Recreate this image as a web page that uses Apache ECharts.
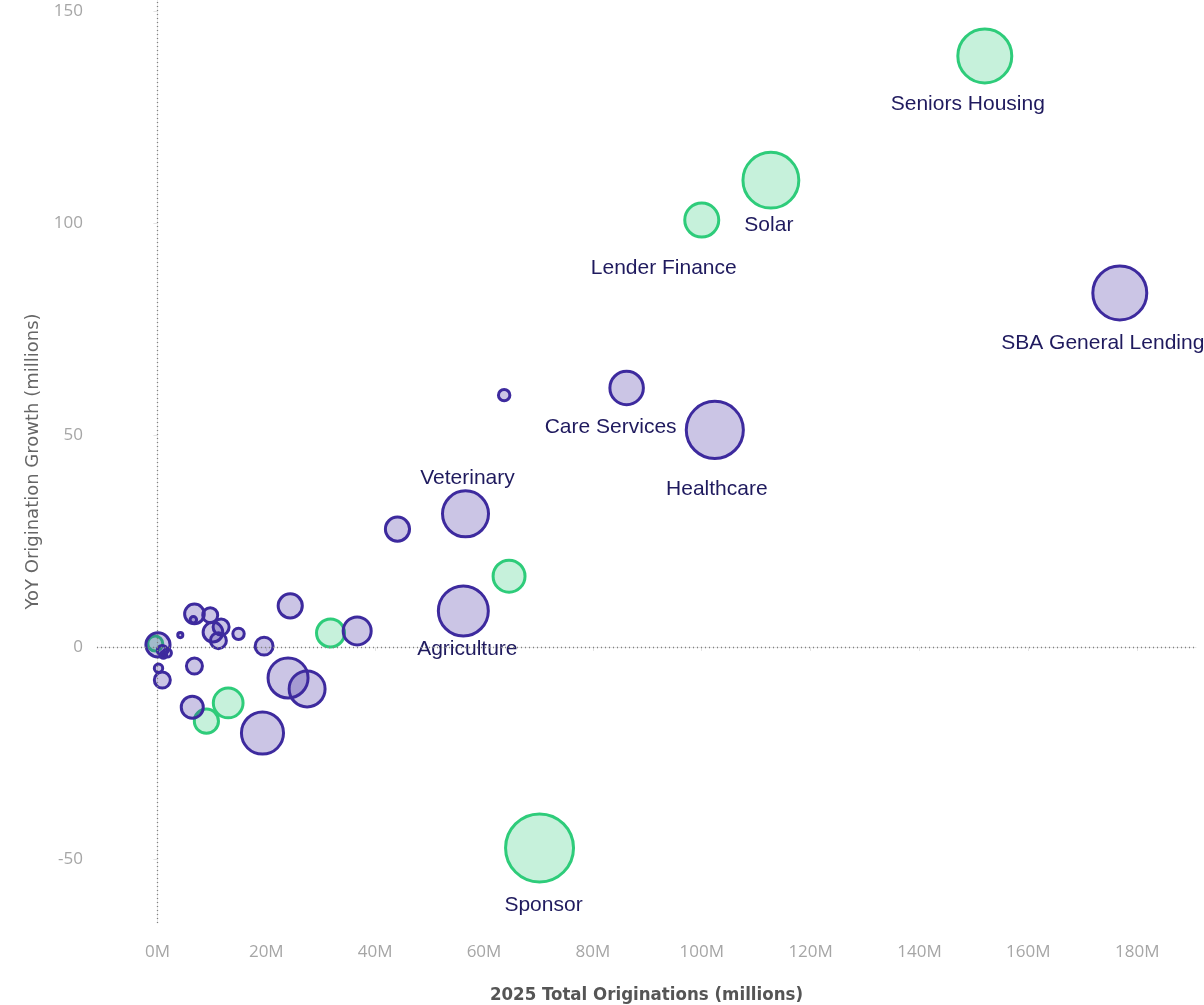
<!DOCTYPE html>
<html>
<head>
<meta charset="utf-8">
<title>Originations vs YoY Growth</title>
<script src="https://cdn.jsdelivr.net/npm/echarts@6/dist/echarts.min.js"></script>
<style>
  html, body { margin: 0; padding: 0; background: #fff; }
  #chart { width: 1204px; height: 1005px; }
</style>
</head>
<body>
<div id="chart"></div>
<script>
// green group
var greenNames = ['Seniors Housing', 'Solar', 'Lender Finance', '', '', '', '', 'Sponsor', ''];
var greenTotal = [152.0, 112.7, 100.0, 64.6, 31.8, 13.0, 9.0, 70.2, -0.4];
var greenGrowth = [139.4, 110.1, 100.7, 16.7, 3.3, -13.2, -17.5, -47.4, 0.8];
var greenWeight = [87, 93, 36, 32, 25, 28, 19, 136, 8];

// purple group
var purpleNames = ['SBA General Lending', 'Care Services', 'Healthcare', '', 'Veterinary', '', 'Agriculture',
    '', '', '', '', '', '', '', '', '', '', '', '', '', '', '', '', '', '', '', '', '', ''];
var purpleTotal = [176.8, 86.2, 102.4, 63.7, 56.6, 44.1, 56.2,
    36.7, 24.4, 19.6, 24.0, 27.5, 6.4, 19.3, 0.1, 0.9, 1.8, 1.1, 0.2, 0.9, 4.2, 6.8, 6.6, 9.7, 10.2, 11.7, 11.2, 14.9, 6.8];
var purpleGrowth = [83.5, 61.1, 51.2, 59.4, 31.4, 27.8, 8.5,
    3.8, 9.7, 0.2, -7.3, -9.9, -14.2, -20.3, 0.5, -0.8, -1.4, -1.9, -5.0, -7.8, 2.8, 7.8, 6.4, 7.5, 3.5, 4.7, 1.5, 3.1, -4.5];
var purpleWeight = [87, 35, 97, 5, 64, 19, 75,
    25, 19, 11, 49, 40, 16, 54, 19, 4, 3, 2, 3, 9, 1.4, 13, 2, 8, 13, 9, 9, 5, 9];

var xTicks = [0, 20, 40, 60, 80, 100, 120, 140, 160, 180];
var yTicks = [-50, 0, 50, 100, 150];

var labelPlace = {
    'Seniors Housing': {position: 'bottom', distance: 9, offset: [-17, 0]},
    'Solar': {position: 'bottom', distance: 5, offset: [-2, 0]},
    'Lender Finance': {position: 'bottom', distance: 19, offset: [-38, 0]},
    'Sponsor': {position: 'bottom', distance: 11, offset: [4, 0]},
    'SBA General Lending': {position: 'bottom', distance: 11, offset: [-17, 0]},
    'Care Services': {position: 'bottom', distance: 11, offset: [-16, 0]},
    'Healthcare': {position: 'bottom', distance: 19, offset: [2, 0]},
    'Veterinary': {position: 'top', distance: 1, offset: [2, 0]},
    'Agriculture': {position: 'bottom', distance: 1, offset: [4, 0]}
};

function buildData(names, xs, ys, ws) {
    return xs.map(function (x, i) {
        var item = {name: names[i], value: [x, ys[i], ws[i]]};
        if (names[i]) {
            var p = labelPlace[names[i]];
            item.label = {show: true, position: p.position, distance: p.distance, offset: p.offset};
        }
        return item;
    });
}

function bubbleSize(v) {
    return 6 * Math.sqrt(v[2]) - 2;
}

var labelText = {
    formatter: '{b}',
    color: '#1f1a5e',
    fontFamily: 'Liberation Sans, Arial, sans-serif',
    fontSize: 21
};

var myChart = echarts.init(document.getElementById('chart'));
myChart.setOption({
    animation: false,
    grid: {left: 97, right: 8, top: 0, bottom: 82, outerBoundsMode: 'none'},
    xAxis: {
        type: 'value',
        min: -11.1,
        max: 190.8,
        name: '2025 Total Originations (millions)',
        nameLocation: 'middle',
        nameGap: 63,
        nameTextStyle: {color: '#555', fontSize: 18.5, fontWeight: 'bold', fontFamily: 'DejaVu Sans Condensed, DejaVu Sans, sans-serif'},
        axisLine: {show: true, lineStyle: {color: '#e8e8e8', width: 1}},
        axisTick: {show: true, customValues: xTicks, length: 4, lineStyle: {color: '#e4e4e4'}},
        axisLabel: {
            customValues: xTicks,
            color: '#a6a6a6',
            fontSize: 17,
            fontFamily: 'Open Sans, sans-serif',
            margin: 21,
            formatter: function (v) { return v + 'M'; }
        },
        splitLine: {show: false}
    },
    yAxis: {
        type: 'value',
        min: -65.1,
        max: 152.6,
        name: 'YoY Origination Growth (millions)',
        nameLocation: 'middle',
        nameGap: 55,
        nameTextStyle: {color: '#666', fontSize: 18, fontFamily: 'DejaVu Sans, sans-serif'},
        axisLine: {show: true, lineStyle: {color: '#e8e8e8', width: 1}},
        axisTick: {show: true, customValues: yTicks, length: 4, lineStyle: {color: '#e4e4e4'}},
        axisLabel: {
            customValues: yTicks,
            color: '#a6a6a6',
            fontSize: 17,
            fontFamily: 'Open Sans, sans-serif',
            margin: 14
        },
        splitLine: {show: false}
    },
    series: [
        {
            name: 'Green',
            type: 'scatter',
            symbol: 'circle',
            symbolSize: bubbleSize,
            itemStyle: {color: 'rgba(46,204,122,0.27)', borderColor: '#2ecc7a', borderWidth: 3, opacity: 1},
            label: labelText,
            data: buildData(greenNames, greenTotal, greenGrowth, greenWeight),
            markLine: {
                silent: true,
                symbol: 'none',
                label: {show: false},
                lineStyle: {type: [1, 3], color: '#808080', width: 1.3},
                data: [{xAxis: 0}, {yAxis: 0}]
            },
            z: 2
        },
        {
            name: 'Purple',
            type: 'scatter',
            symbol: 'circle',
            symbolSize: bubbleSize,
            itemStyle: {color: 'rgba(63,42,160,0.27)', borderColor: '#3d2a9e', borderWidth: 3, opacity: 1},
            label: labelText,
            data: buildData(purpleNames, purpleTotal, purpleGrowth, purpleWeight),
            z: 3
        }
    ]
});
</script>
</body>
</html>
